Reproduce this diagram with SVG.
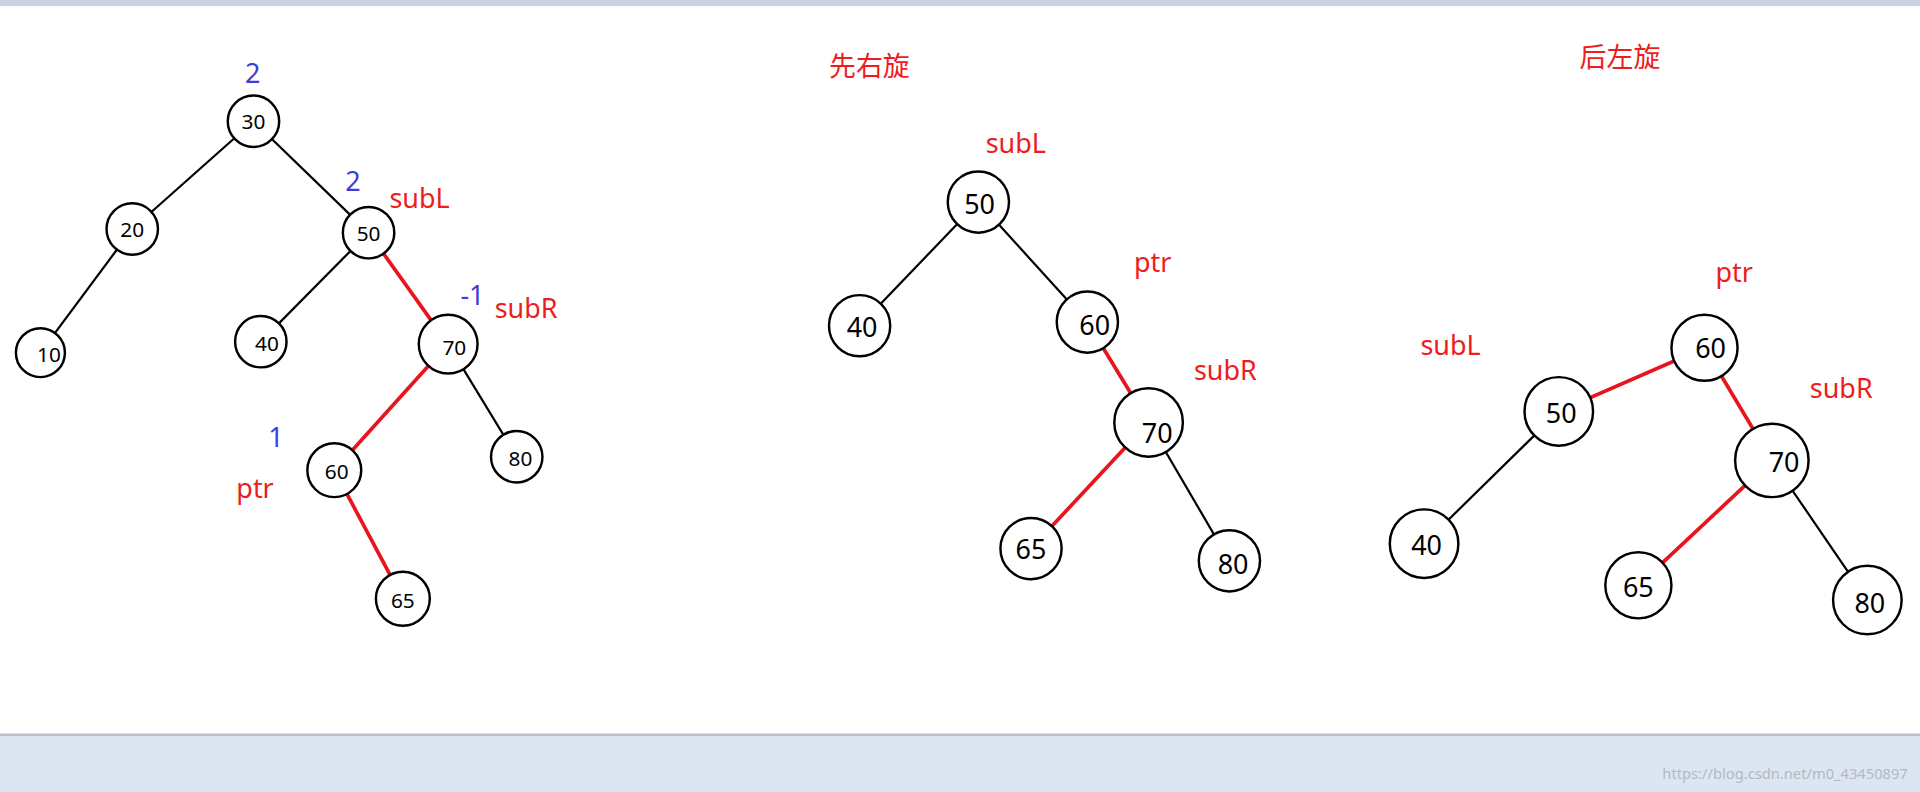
<svg xmlns="http://www.w3.org/2000/svg" width="1920" height="792" viewBox="0 0 1920 792">
<style>
text{font-family:"Noto Sans","Noto Sans CJK SC",sans-serif}
.n circle{fill:#fff;stroke:#000;stroke-width:2}
.n text{font-size:17px;text-anchor:middle;dominant-baseline:central;fill:#000}
.b text{font-size:22px}
.k{stroke:#000;stroke-width:1.8;fill:none}
.r{stroke:#e8141e;stroke-width:3;fill:none}
.lr{fill:#ee1c1c;font-size:22px}
.lb{fill:#3c3cdc;font-size:22px}
</style>
<rect width="1920" height="792" fill="#dce6f2"/>
<g transform="scale(1.2245)">
<rect x="0" y="0" width="1568" height="5" fill="#c8d2e0"/>
<rect x="0" y="5" width="1568" height="595" fill="#fff"/>
<line x1="0" y1="600" x2="1568" y2="600" stroke="#b8c0cc" stroke-width="2"/>
<g id="connectors">
<line class="k" x1="207" y1="99" x2="108" y2="187"/>
<line class="k" x1="207" y1="99" x2="301" y2="190"/>
<line class="k" x1="108" y1="187" x2="33" y2="288"/>
<line class="k" x1="301" y1="190" x2="213" y2="279"/>
<line class="r" x1="301" y1="190" x2="366" y2="281"/>
<line class="r" x1="366" y1="281" x2="273" y2="384"/>
<line class="k" x1="366" y1="281" x2="422" y2="373"/>
<line class="r" x1="273" y1="384" x2="329" y2="489"/>
<line class="k" x1="799" y1="165" x2="702" y2="266"/>
<line class="k" x1="799" y1="165" x2="888" y2="263"/>
<line class="r" x1="888" y1="263" x2="938" y2="345"/>
<line class="r" x1="938" y1="345" x2="842" y2="448"/>
<line class="k" x1="938" y1="345" x2="1004" y2="458"/>
<line class="r" x1="1273" y1="336" x2="1392" y2="284"/>
<line class="r" x1="1392" y1="284" x2="1447" y2="376"/>
<line class="k" x1="1273" y1="336" x2="1163" y2="444"/>
<line class="r" x1="1447" y1="376" x2="1338" y2="478"/>
<line class="k" x1="1447" y1="376" x2="1525" y2="490"/>
</g>
<g id="t1n30" class="n"><circle cx="207" cy="99" r="21"/><text x="207" y="99">30</text></g>
<g id="t1n20" class="n"><circle cx="108" cy="187" r="21"/><text x="108" y="187">20</text></g>
<g id="t1n50" class="n"><circle cx="301" cy="190" r="21"/><text x="301" y="190">50</text></g>
<g id="t1n10" class="n"><circle cx="33" cy="288" r="20"/><text x="40" y="289">10</text></g>
<g id="t1n40" class="n"><circle cx="213" cy="279" r="21"/><text x="218" y="280">40</text></g>
<g id="t1n70" class="n"><circle cx="366" cy="281" r="24"/><text x="371" y="283">70</text></g>
<g id="t1n60" class="n"><circle cx="273" cy="384" r="22"/><text x="275" y="385">60</text></g>
<g id="t1n80" class="n"><circle cx="422" cy="373" r="21"/><text x="425" y="374">80</text></g>
<g id="t1n65" class="n"><circle cx="329" cy="489" r="22"/><text x="329" y="490">65</text></g>
<g id="t2n50" class="n b"><circle cx="799" cy="165" r="25"/><text x="800" y="166">50</text></g>
<g id="t2n40" class="n b"><circle cx="702" cy="266" r="25"/><text x="704" y="267">40</text></g>
<g id="t2n60" class="n b"><circle cx="888" cy="263" r="25"/><text x="894" y="265">60</text></g>
<g id="t2n70" class="n b"><circle cx="938" cy="345" r="28"/><text x="945" y="353">70</text></g>
<g id="t2n65" class="n b"><circle cx="842" cy="448" r="25"/><text x="842" y="448">65</text></g>
<g id="t2n80" class="n b"><circle cx="1004" cy="458" r="25"/><text x="1007" y="460">80</text></g>
<g id="t3n60" class="n b"><circle cx="1392" cy="284" r="27"/><text x="1397" y="284">60</text></g>
<g id="t3n50" class="n b"><circle cx="1273" cy="336" r="28"/><text x="1275" y="337">50</text></g>
<g id="t3n40" class="n b"><circle cx="1163" cy="444" r="28"/><text x="1165" y="445">40</text></g>
<g id="t3n70" class="n b"><circle cx="1447" cy="376" r="30"/><text x="1457" y="377">70</text></g>
<g id="t3n65" class="n b"><circle cx="1338" cy="478" r="27"/><text x="1338" y="479">65</text></g>
<g id="t3n80" class="n b"><circle cx="1525" cy="490" r="28"/><text x="1527" y="492">80</text></g>
<g id="labels">
<text class="lb" x="200" y="68">2</text>
<text class="lb" x="282" y="156">2</text>
<text class="lr" x="318" y="170">subL</text>
<text class="lb" x="376" y="249">-1</text>
<text class="lr" x="404" y="260">subR</text>
<text class="lb" x="219" y="365">1</text>
<text class="lr" x="193" y="407">ptr</text>
<text class="lr" x="677" y="62">先右旋</text>
<text class="lr" x="1290" y="55">后左旋</text>
<text class="lr" x="805" y="125">subL</text>
<text class="lr" x="926" y="222">ptr</text>
<text class="lr" x="975" y="310">subR</text>
<text class="lr" x="1160" y="290">subL</text>
<text class="lr" x="1401" y="230">ptr</text>
<text class="lr" x="1478" y="325">subR</text>
</g>
<text x="1558" y="636" font-size="12" fill="#b4b8c0" text-anchor="end">https://blog.csdn.net/m0_43450897</text>
</g>
</svg>
